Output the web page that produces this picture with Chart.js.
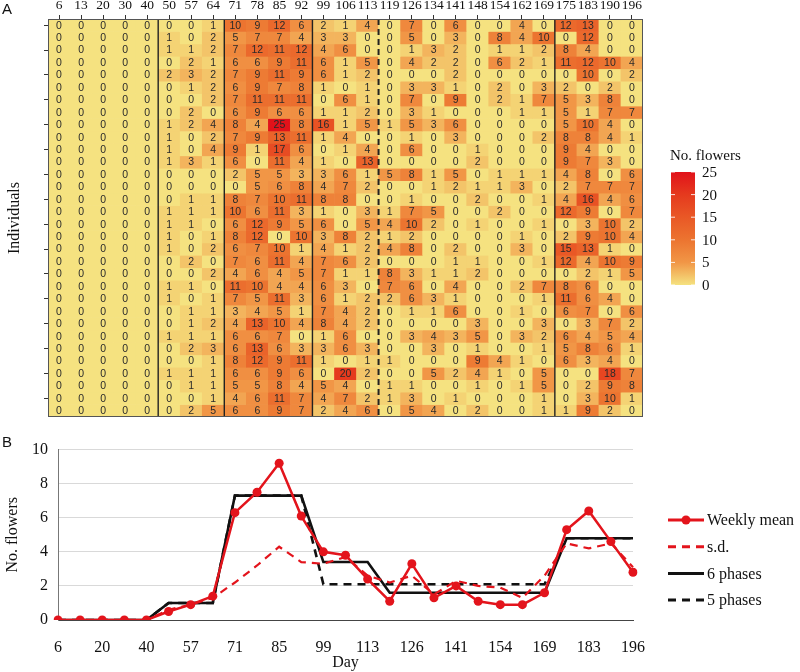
<!DOCTYPE html>
<html>
<head>
<meta charset="utf-8">
<script src="https://cdn.jsdelivr.net/npm/chart.js@4.4.1/dist/chart.umd.min.js"></script>
<style>
  html, body { margin: 0; padding: 0; background: #fff; }
  #wrap { position: relative; width: 800px; height: 672px; overflow: hidden; }
  #heatA { position: absolute; left: 0; top: 0; }
  #lineB { position: absolute; left: 0; top: 430px; }
  .panel { position: absolute; font-family: "Liberation Sans", Arial, sans-serif; font-size: 15px; color: #111; }
</style>
</head>
<body>
<div id="wrap">
  <canvas id="heatA" width="800" height="430"></canvas>
  <canvas id="lineB" width="800" height="242"></canvas>
  <div class="panel" style="left:2px; top:0px;">A</div>
  <div class="panel" style="left:2px; top:433px;">B</div>
</div>
<script>
// ---- data ----
const days = ['6','13','20','30','40','50','57','64','71','78','85','92','99','106','113',
              '119','126','134','141','148','154','162','169','175','183','190','196'];

// flowers per individual (rows) and week (columns)
const flowerCounts = [
  [0,0,0,0,0, 0,0,1, 10,9,12,6, 2,1,4, 0,7,0,6,0,0,4,0, 12,13,0,0],
  [0,0,0,0,0, 1,0,2, 5,7,7,4, 3,3,0, 0,5,0,3,0,8,4,10, 0,12,0,0],
  [0,0,0,0,0, 1,1,2, 7,12,11,12, 4,6,0, 0,1,3,2,0,1,1,2, 8,4,0,0],
  [0,0,0,0,0, 0,2,1, 6,6,9,11, 6,1,5, 0,4,2,2,0,6,2,1, 11,12,10,4],
  [0,0,0,0,0, 2,3,2, 7,9,11,9, 6,1,2, 0,0,0,2,0,0,0,0, 0,10,0,2],
  [0,0,0,0,0, 0,1,2, 6,9,7,8, 1,0,1, 0,3,3,1,0,2,0,3, 2,0,2,0],
  [0,0,0,0,0, 0,0,2, 7,11,11,11, 0,6,1, 0,7,0,9,0,2,1,7, 5,3,8,0],
  [0,0,0,0,0, 0,2,0, 6,9,6,6, 1,1,2, 0,3,1,0,0,0,1,1, 5,1,7,7],
  [0,0,0,0,0, 1,2,4, 8,4,25,8, 16,1,5, 1,5,3,6,0,0,0,0, 5,10,4,0],
  [0,0,0,0,0, 1,0,2, 7,9,13,11, 1,4,0, 0,1,0,3,0,0,0,2, 8,8,4,1],
  [0,0,0,0,0, 1,0,4, 9,1,17,6, 0,1,4, 0,6,0,0,1,0,0,0, 9,4,0,0],
  [0,0,0,0,0, 1,3,1, 6,0,11,4, 1,0,13, 0,0,0,0,2,0,0,0, 9,7,3,0],
  [0,0,0,0,0, 0,0,0, 2,5,5,3, 3,6,1, 5,8,1,5,0,1,1,1, 4,8,0,6],
  [0,0,0,0,0, 0,0,0, 0,5,6,8, 4,7,2, 0,0,1,2,1,1,3,0, 2,7,7,7],
  [0,0,0,0,0, 0,1,1, 8,7,10,11, 8,8,0, 0,1,0,0,2,0,0,1, 4,16,4,6],
  [0,0,0,0,0, 1,1,1, 10,6,11,3, 1,0,3, 1,7,5,0,0,2,0,0, 12,9,0,7],
  [0,0,0,0,0, 1,1,0, 6,12,9,5, 6,0,5, 4,10,2,0,1,0,0,1, 0,3,10,2],
  [0,0,0,0,0, 1,0,1, 8,12,0,10, 3,8,2, 1,2,0,0,0,0,1,0, 2,9,10,4],
  [0,0,0,0,0, 1,0,2, 6,7,10,1, 4,1,2, 4,8,0,2,0,0,3,0, 15,13,1,0],
  [0,0,0,0,0, 0,2,0, 7,6,11,4, 7,6,2, 0,0,0,1,1,0,0,1, 12,4,10,9],
  [0,0,0,0,0, 0,0,2, 4,6,4,5, 7,1,1, 8,3,1,1,2,0,0,0, 0,2,1,5],
  [0,0,0,0,0, 1,1,0, 11,10,4,4, 6,3,0, 7,6,0,4,0,0,2,7, 8,6,0,0],
  [0,0,0,0,0, 1,0,1, 7,5,11,3, 6,1,2, 2,6,3,1,0,0,0,1, 11,6,4,0],
  [0,0,0,0,0, 0,1,1, 3,4,5,1, 7,4,2, 0,1,1,6,0,0,1,0, 6,7,0,6],
  [0,0,0,0,0, 0,1,2, 4,13,10,4, 8,4,2, 0,0,0,0,3,0,0,3, 0,3,7,2],
  [0,0,0,0,0, 1,1,1, 6,6,7,0, 1,6,0, 0,3,4,3,5,0,3,2, 6,4,5,4],
  [0,0,0,0,0, 0,2,3, 6,13,6,3, 3,6,3, 0,0,3,0,1,0,0,1, 5,8,6,1],
  [0,0,0,0,0, 0,0,1, 8,12,9,11, 1,0,1, 1,0,0,0,9,4,1,0, 6,3,4,0],
  [0,0,0,0,0, 1,1,1, 6,6,9,6, 0,20,2, 0,0,5,2,4,1,0,5, 0,0,18,7],
  [0,0,0,0,0, 0,1,1, 5,5,8,4, 5,4,0, 1,1,0,0,1,0,1,5, 0,2,9,8],
  [0,0,0,0,0, 0,0,1, 4,6,11,7, 4,7,2, 1,3,0,1,0,0,0,1, 0,3,10,1],
  [0,0,0,0,0, 0,2,5, 6,6,9,7, 2,4,6, 0,5,4,0,2,0,0,1, 1,9,2,0]
];

const weeklyMean = [0,0,0,0,0, 0.5,0.9,1.4, 6.3,7.5,9.2,6.1, 4.0,3.8,2.4, 1.1,3.3,1.3,2.0,1.1,0.9,0.9,1.6, 5.3,6.4,4.6,2.8];
const sdValues   = [0,0,0,0,0, 0.6,0.9,1.3, 2.2,3.2,4.3,3.4, 3.3,3.7,2.6, 2.2,2.6,1.5,2.3,2.0,1.9,1.3,2.6, 4.5,4.2,4.5,3.1];
const sixPhases  = [0,0,0,0,0, 1.0,1.0,1.0, 7.3,7.3,7.3,7.3, 3.4,3.4,3.4, 1.6,1.6,1.6,1.6,1.6,1.6,1.6,1.6, 4.8,4.8,4.8,4.8];
const fivePhases = [0,0,0,0,0, 1.0,1.0,1.0, 7.3,7.3,7.3,7.3, 2.1,2.1,2.1, 2.1,2.1,2.1,2.1,2.1,2.1,2.1,2.1, 4.8,4.8,4.8,4.8];

// phase boundaries in the heatmap (after column index)
const solidBreaks = [4, 7, 11, 22];
const dashedBreaks = [14];
const legendTicks = [0, 5, 10, 15, 20, 25];

// ---- colour scale ----
const colorStops = [
  [0, [245, 226, 128]],
  [5, [241, 150, 70]],
  [10, [236, 116, 48]],
  [15, [233, 88, 38]],
  [20, [229, 58, 30]],
  [25, [225, 18, 26]]
];
function cellColor(v) {
  for (let k = 1; k < colorStops.length; k++) {
    const [v1, c1] = colorStops[k];
    const [v0, c0] = colorStops[k - 1];
    if (v <= v1) {
      const t = (v - v0) / (v1 - v0);
      const c = c0.map((a, n) => Math.round(a + (c1[n] - a) * t));
      return `rgb(${c[0]},${c[1]},${c[2]})`;
    }
  }
  const c = colorStops[colorStops.length - 1][1];
  return `rgb(${c[0]},${c[1]},${c[2]})`;
}

const serif = '"Liberation Serif", "Times New Roman", serif';

// numbers, phase lines, frame and colour legend for panel A
const heatOverlay = {
  id: 'heatOverlay',
  afterDatasetsDraw(chart) {
    const { ctx, chartArea: ca, scales: { x, y } } = chart;
    ctx.save();
    ctx.font = '10.5px "Liberation Sans", Arial, sans-serif';
    ctx.fillStyle = '#2a2a2a';
    ctx.textAlign = 'center';
    ctx.textBaseline = 'middle';
    flowerCounts.forEach((row, i) => {
      row.forEach((v, j) => {
        ctx.fillText(String(v), x.getPixelForValue(j), y.getPixelForValue(i + 0.5) + 0.5);
      });
    });
    const mid = j => (x.getPixelForValue(j) + x.getPixelForValue(j + 1)) / 2;
    ctx.strokeStyle = '#222';
    ctx.lineWidth = 1.4;
    solidBreaks.forEach(j => {
      ctx.beginPath(); ctx.moveTo(mid(j), ca.top); ctx.lineTo(mid(j), ca.bottom); ctx.stroke();
    });
    ctx.setLineDash([6, 4]);
    ctx.lineWidth = 2;
    dashedBreaks.forEach(j => {
      ctx.beginPath(); ctx.moveTo(mid(j), ca.top); ctx.lineTo(mid(j), ca.bottom); ctx.stroke();
    });
    ctx.setLineDash([]);
    ctx.lineWidth = 1;
    ctx.strokeStyle = '#555';
    ctx.strokeRect(ca.left + 0.5, ca.top + 0.5, ca.right - ca.left - 1, ca.bottom - ca.top - 1);

    // colour bar legend
    const bx = 671, bw = 24, bTop = 172, bH = 113;
    const grad = ctx.createLinearGradient(0, bTop + bH, 0, bTop);
    colorStops.forEach(([v]) => grad.addColorStop(v / 25, cellColor(v)));
    ctx.fillStyle = grad;
    ctx.fillRect(bx, bTop, bw, bH);
    ctx.fillStyle = '#111';
    ctx.font = '15px ' + serif;
    ctx.textAlign = 'left';
    ctx.textBaseline = 'alphabetic';
    ctx.fillText('No. flowers', 670, 160);
    ctx.textBaseline = 'middle';
    ctx.strokeStyle = 'rgba(255,255,255,0.85)';
    legendTicks.forEach(v => {
      const py = bTop + bH - (v / 25) * bH;
      ctx.fillStyle = '#111';
      ctx.fillText(String(v), 702, py + 1);
      ctx.beginPath();
      ctx.moveTo(bx, py); ctx.lineTo(bx + 4, py);
      ctx.moveTo(bx + bw - 4, py); ctx.lineTo(bx + bw, py);
      ctx.stroke();
    });
    ctx.restore();
  }
};

new Chart(document.getElementById('heatA'), {
  type: 'bar',
  data: {
    labels: days,
    datasets: flowerCounts.map((row, i) => ({
      data: row.map(() => [i, i + 1]),
      backgroundColor: row.map(cellColor),
      borderWidth: 0,
      barPercentage: 1,
      categoryPercentage: 1,
      grouped: false
    }))
  },
  options: {
    responsive: false,
    animation: false,
    devicePixelRatio: 1,
    layout: { padding: { left: 0, right: 157, top: 0, bottom: 13 } },
    plugins: { legend: { display: false }, tooltip: { enabled: false } },
    scales: {
      x: {
        position: 'top',
        offset: true,
        grid: { drawOnChartArea: false, drawTicks: true, tickLength: 4, offset: false, color: '#333' },
        border: { display: false },
        ticks: { autoSkip: false, maxRotation: 0, padding: 1, color: '#111', font: { family: serif, size: 13.5 } },
        afterFit: s => { s.height = 19; }
      },
      y: {
        reverse: true,
        min: 0,
        max: flowerCounts.length,
        afterBuildTicks: s => { s.ticks = flowerCounts.map((r, i) => ({ value: i + 0.5 })); },
        ticks: { callback: () => '' },
        grid: { drawOnChartArea: false, drawTicks: true, tickLength: 4, color: '#333' },
        border: { display: false },
        title: { display: true, text: 'Individuals', color: '#111', font: { family: serif, size: 16 }, padding: { top: 5, bottom: 0 } },
        afterFit: s => { s.width = 48; }
      }
    }
  },
  plugins: [heatOverlay]
});

// legend for panel B
const lineLegend = {
  id: 'lineLegend',
  afterDraw(chart) {
    const { ctx } = chart;
    ctx.save();
    ctx.font = '16px ' + serif;
    ctx.textBaseline = 'middle';
    ctx.fillStyle = '#111';
    const x0 = 668, x1 = 704;
    chart.data.datasets.forEach((ds, k) => {
      const py = 90 + k * 26.7;
      ctx.strokeStyle = ds.borderColor;
      ctx.lineWidth = 3;
      ctx.setLineDash(ds.borderDash || []);
      ctx.beginPath(); ctx.moveTo(x0, py); ctx.lineTo(x1, py); ctx.stroke();
      ctx.setLineDash([]);
      if (ds.pointRadius > 0) {
        ctx.fillStyle = ds.pointBackgroundColor;
        ctx.beginPath(); ctx.arc((x0 + x1) / 2, py, 4.5, 0, Math.PI * 2); ctx.fill();
      }
      ctx.fillStyle = '#111';
      ctx.fillText(ds.label, x1 + 3, py + 1);
    });
    ctx.restore();
  }
};

new Chart(document.getElementById('lineB'), {
  type: 'line',
  data: {
    labels: days,
    datasets: [
      { label: 'Weekly mean', data: weeklyMean, borderColor: '#e3141c', backgroundColor: '#e3141c',
        pointBackgroundColor: '#e3141c', pointBorderWidth: 0, pointRadius: 4.5, borderWidth: 2.5, tension: 0 },
      { label: 's.d.', data: sdValues, borderColor: '#e3141c', borderDash: [8, 6], borderWidth: 2.2,
        pointRadius: 0, tension: 0 },
      { label: '6 phases', data: sixPhases, borderColor: '#111', borderWidth: 2.6, pointRadius: 0, tension: 0 },
      { label: '5 phases', data: fivePhases, borderColor: '#111', borderDash: [8, 6], borderWidth: 2.6,
        pointRadius: 0, tension: 0 }
    ]
  },
  options: {
    responsive: false,
    animation: false,
    devicePixelRatio: 1,
    layout: { padding: { left: 0, right: 167, top: 16, bottom: 0 } },
    plugins: { legend: { display: false }, tooltip: { enabled: false } },
    scales: {
      x: {
        offset: false,
        grid: { display: false },
        border: { display: true, color: '#444', width: 1 },
        ticks: {
          autoSkip: false, maxRotation: 0, padding: 10, color: '#111', font: { family: serif, size: 16 },
          callback: (v, i) => (i % 2 === 0 ? days[i] : '')
        },
        title: { display: true, text: 'Day', color: '#111', font: { family: serif, size: 16 }, padding: { top: 0, bottom: 0 } },
        afterFit: s => { s.height = 52; }
      },
      y: {
        min: 0,
        max: 10,
        ticks: { stepSize: 2, padding: 10, color: '#111', font: { family: serif, size: 16 } },
        grid: { color: '#d9d9d9', drawTicks: false },
        border: { display: true, color: '#777', width: 1 },
        title: { display: true, text: 'No. flowers', color: '#111', font: { family: serif, size: 16 }, padding: { top: 3, bottom: 0 } },
        afterFit: s => { s.width = 58; }
      }
    }
  },
  plugins: [lineLegend]
});
</script>
</body>
</html>
